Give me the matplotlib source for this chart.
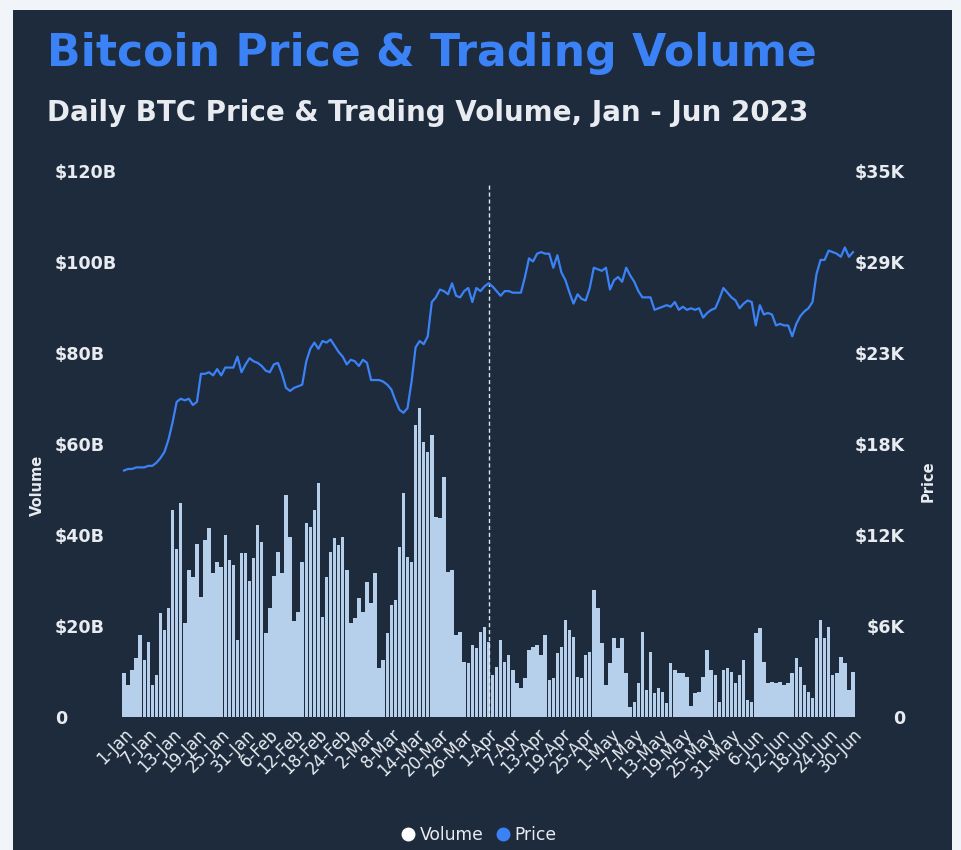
import matplotlib
matplotlib.use("Agg")
import matplotlib.pyplot as plt
from matplotlib.patches import Rectangle
from matplotlib.lines import Line2D
import numpy as np

# ---------------- data ----------------
volume_b = [
    9.6, 7.0, 10.3, 12.9, 18.0, 12.5, 16.5, 7.0, 9.2, 22.8,
    19.1, 24.0, 45.5, 37.0, 47.0, 20.6, 32.3, 30.8, 38.0, 26.4,
    38.9, 41.5, 31.6, 34.0, 33.0, 40.0, 34.5, 33.4, 17.0, 36.0,
    36.0, 30.0, 35.0, 42.2, 38.5, 18.5, 24.0, 31.0, 36.3, 31.6,
    48.8, 39.6, 21.0, 23.0, 34.0, 42.6, 41.8, 45.5, 51.4, 22.0,
    30.8, 36.3, 39.3, 37.8, 39.6, 32.3, 20.6, 21.8, 26.2, 23.1,
    29.7, 25.0, 31.6, 10.8, 12.5, 18.4, 24.6, 25.7, 37.4, 49.2,
    35.2, 34.0, 64.2, 67.9, 60.4, 58.2, 62.0, 44.0, 43.7, 52.7,
    31.9, 32.3, 18.0, 18.7, 12.1, 11.9, 15.8, 15.2, 18.7, 19.8,
    16.5, 9.2, 11.0, 17.0, 12.1, 13.6, 10.3, 7.5, 6.4, 8.6,
    14.7, 15.4, 15.8, 13.6, 18.0, 8.1, 8.6, 14.1, 15.4, 21.3,
    19.1, 17.6, 8.8, 8.6, 13.6, 14.3, 27.9, 24.0, 16.3, 7.0,
    11.9, 17.4, 15.2, 17.4, 9.7, 2.2, 3.3, 7.5, 18.7, 5.9,
    14.3, 5.3, 6.4, 5.5, 3.1, 11.9, 10.3, 9.7, 9.7, 8.8,
    2.5, 5.3, 5.5, 8.8, 14.7, 10.3, 9.2, 3.3, 10.3, 10.8,
    9.9, 7.5, 9.2, 12.5, 3.7, 3.3, 18.5, 19.6, 12.1, 7.5,
    7.7, 7.5, 7.7, 7.0, 7.5, 9.7, 13.0, 11.0, 7.0, 5.5,
    4.2, 17.4, 21.3, 17.4, 19.8, 9.2, 9.7, 13.2, 11.9, 5.9,
    9.9,
]

price_k = [
    15.8, 15.9, 15.9, 16.0, 16.0, 16.0, 16.1, 16.1, 16.3, 16.6,
    17.0, 17.8, 18.9, 20.2, 20.4, 20.3, 20.4, 20.0, 20.2, 22.0,
    22.0, 22.1, 21.9, 22.3, 21.9, 22.4, 22.4, 22.4, 23.1, 22.1,
    22.6, 23.0, 22.8, 22.7, 22.5, 22.2, 22.1, 22.6, 22.7, 22.0,
    21.1, 20.9, 21.1, 21.2, 21.3, 22.8, 23.6, 24.0, 23.6, 24.1,
    24.0, 24.2, 23.8, 23.4, 23.1, 22.6, 22.9, 22.8, 22.5, 22.9,
    22.7, 21.6, 21.6, 21.6, 21.5, 21.3, 21.0, 20.3, 19.7, 19.5,
    19.8, 21.5, 23.7, 24.1, 23.9, 24.4, 26.6, 26.9, 27.4, 27.3,
    27.1, 27.8, 27.0, 26.9, 27.3, 27.5, 26.6, 27.5, 27.3, 27.6,
    27.8, 27.6, 27.3, 27.0, 27.3, 27.3, 27.2, 27.2, 27.2, 28.2,
    29.4, 29.2, 29.7, 29.8, 29.7, 29.7, 28.8, 29.6, 28.5, 28.0,
    27.2, 26.5, 27.1, 26.8, 26.7, 27.5, 28.8, 28.7, 28.6, 28.8,
    27.4, 28.0, 28.2, 27.9, 28.8, 28.3, 27.9, 27.3, 26.9, 26.9,
    26.9, 26.1, 26.2, 26.3, 26.4, 26.3, 26.6, 26.1, 26.3, 26.1,
    26.2, 26.1, 26.2, 25.6, 25.9, 26.1, 26.2, 26.8, 27.5, 27.2,
    26.9, 26.7, 26.2, 26.5, 26.7, 26.6, 25.1, 26.4, 25.8, 25.9,
    25.8, 25.1, 25.2, 25.1, 25.1, 24.4, 25.2, 25.7, 26.0, 26.2,
    26.6, 28.4, 29.3, 29.3, 29.9, 29.8, 29.7, 29.5, 30.1, 29.5,
    29.8,
]

tick_labels = [
    "1-Jan", "7-Jan", "13-Jan", "19-Jan", "25-Jan", "31-Jan",
    "6-Feb", "12-Feb", "18-Feb", "24-Feb", "2-Mar", "8-Mar",
    "14-Mar", "20-Mar", "26-Mar", "1-Apr", "7-Apr", "13-Apr",
    "19-Apr", "25-Apr", "1-May", "7-May", "13-May", "19-May",
    "25-May", "31-May", "6-Jun", "12-Jun", "18-Jun", "24-Jun", "30-Jun",
]
tick_step = 6
marker_day_label = "1-Apr"

vol_ticks = [0, 20, 40, 60, 80, 100, 120]
vol_tick_labels = ["0", "$20B", "$40B", "$60B", "$80B", "$100B", "$120B"]
price_max = 35
price_tick_labels = ["0", "$6K", "$12K", "$18K", "$23K", "$29K", "$35K"]

title = "Bitcoin Price & Trading Volume"
subtitle = "Daily BTC Price & Trading Volume, Jan - Jun 2023"

# ---------------- style ----------------
W, H = 962, 850
BG_OUT = "#f1f4f8"
PANEL = "#1d2b3d"
BLUE = "#3b82f6"
BAR = "#b6d0ec"
TXT = "#e8ecf1"
plt.rcParams["font.family"] = ["DejaVu Sans"]

fig = plt.figure(figsize=(W / 100, H / 100), dpi=100)
fig.patch.set_facecolor(BG_OUT)
fig.add_artist(Rectangle((13 / W, 0), (952 - 13) / W, 1 - 10 / H,
                         transform=fig.transFigure, facecolor=PANEL,
                         edgecolor="none", zorder=0))

left_px, right_px, top_px, bottom_px = 122, 855, 171, 717
ax = fig.add_axes([left_px / W, 1 - bottom_px / H,
                   (right_px - left_px) / W, (bottom_px - top_px) / H])
ax.set_facecolor("none")
ax2 = ax.twinx()

x = np.arange(len(volume_b))
ax.bar(x, volume_b, width=0.86, color=BAR, edgecolor="none", zorder=2)
ax.set_xlim(-0.5, len(volume_b) - 0.5)
ax.set_ylim(0, 120)
ax.set_yticks(vol_ticks)
ax.set_yticklabels(vol_tick_labels)
ax.tick_params(axis="y", length=0, pad=48.5, labelsize=12.6, labelcolor=TXT)
for t in ax.get_yticklabels():
    t.set_horizontalalignment("left")
    t.set_fontweight("bold")

ax.set_xticks(x[::tick_step])
ax.set_xticklabels(tick_labels, rotation=45, ha="right",
                   rotation_mode="anchor")
ax.tick_params(axis="x", length=0, pad=6, labelsize=12, labelcolor=TXT)

ax2.plot(x, price_k, color=BLUE, lw=1.6, zorder=3)
ax2.set_ylim(0, price_max)
ax2.set_yticks(np.linspace(0, price_max, len(price_tick_labels)))
ax2.set_yticklabels(price_tick_labels)
ax2.tick_params(axis="y", length=0, pad=36, labelsize=12.6, labelcolor=TXT)
for t in ax2.get_yticklabels():
    t.set_horizontalalignment("right")
    t.set_fontweight("bold")

mi = tick_labels.index(marker_day_label) * tick_step
ax.axvline(mi, ymax=(bottom_px - 185) / (bottom_px - top_px),
           color="#dfe6ee", lw=1, ls=(0, (3, 2)), zorder=4)

for a in (ax, ax2):
    for s in a.spines.values():
        s.set_visible(False)
    a.grid(False)

fig.text(37 / W, 1 - 485 / H, "Volume", rotation=90, ha="center",
         va="center", color=TXT, fontsize=10.5, fontweight="bold")
fig.text(928 / W, 1 - 481 / H, "Price", rotation=90, ha="center",
         va="center", color=TXT, fontsize=10.5, fontweight="bold")

fig.text(47 / W, 1 - 66 / H, title, color=BLUE, fontsize=31.8,
         fontweight="bold", va="baseline", ha="left")
fig.text(47 / W, 1 - 121 / H, subtitle, color=TXT, fontsize=20.0,
         fontweight="bold", va="baseline", ha="left")

handles = [
    Line2D([], [], ls="none", marker="o", markersize=9,
           markerfacecolor="white", markeredgecolor="white"),
    Line2D([], [], ls="none", marker="o", markersize=9,
           markerfacecolor=BLUE, markeredgecolor=BLUE),
]
leg = fig.legend(handles, ["Volume", "Price"], loc="center",
                 bbox_to_anchor=(478 / W, 1 - 835 / H), ncol=2,
                 frameon=False, handletextpad=0.2, columnspacing=0.6,
                 handlelength=1.0, fontsize=12.3)
for t in leg.get_texts():
    t.set_color(TXT)

fig.savefig("out.png", dpi=100, facecolor=fig.get_facecolor())
